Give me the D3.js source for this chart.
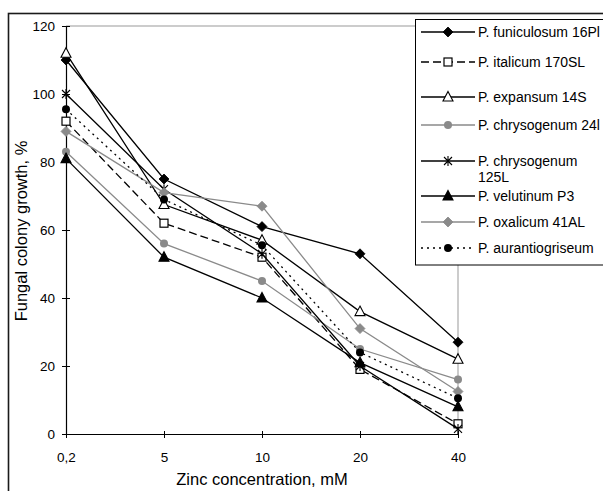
<!DOCTYPE html>
<html>
<head>
<meta charset="utf-8">
<script src="https://cdn.jsdelivr.net/npm/d3@7"></script>
<style>
	body { margin: 0; background: #fff; }
	svg { display: block; font-family: Arial, "Liberation Sans", sans-serif; }
</style>
</head>
<body>
<script>
// zinc concentrations (mM) on the x axis
const categories = ["0,2", "5", "10", "20", "40"];
const yTicks = [0, 20, 40, 60, 80, 100, 120];

// colony growth, %
const funiculosum = [110, 75, 61, 53, 27];
const italicum = [92, 62, 52, 19, 3];
const expansum = [112, 67.5, 57, 36, 22];
const chrysogenum24 = [83, 56, 45, 25, 16];
const chrysogenum125 = [100, 72, 53, 20, 1.5];
const velutinum = [81, 52, 40, 21, 8];
const oxalicum = [89, 71, 67, 31, 12.5];
const aurantiogriseum = [95.5, 69, 55.5, 24, 10.5];

const seriesNames = [
	"P. funiculosum 16Pl",
	"P. italicum 170SL",
	"P. expansum 14S",
	"P. chrysogenum 24l",
	"P. chrysogenum 125L",
	"P. velutinum P3",
	"P. oxalicum 41AL",
	"P. aurantiogriseum"
];
const seriesValues = [funiculosum, italicum, expansum, chrysogenum24, chrysogenum125, velutinum, oxalicum, aurantiogriseum];

const styles = [
	{ color: "#000", dash: null, marker: "diamond", fill: "#000" },
	{ color: "#000", dash: "8,4", marker: "square", fill: "#fff" },
	{ color: "#000", dash: null, marker: "triangle", fill: "#fff" },
	{ color: "#8a8a8a", dash: null, marker: "circle", fill: "#8a8a8a" },
	{ color: "#000", dash: null, marker: "star", fill: "none" },
	{ color: "#000", dash: null, marker: "triangle", fill: "#000" },
	{ color: "#8a8a8a", dash: null, marker: "diamond", fill: "#8a8a8a" },
	{ color: "#000", dash: "2,4", marker: "circle", fill: "#000" }
];

const W = 603, H = 491;
const plot = { left: 66, right: 458, top: 26, bottom: 434 };

const svg = d3.select("body").append("svg").attr("width", W).attr("height", H);

// outer chart frame (runs off the right/bottom edge)
svg.append("rect")
	.attr("x", 8.5).attr("y", 13.5)
	.attr("width", 620).attr("height", 500)
	.attr("fill", "none").attr("stroke", "#1a1a1a").attr("stroke-width", 1.6);

const x = d3.scalePoint().domain(categories).range([plot.left, plot.right]).padding(0);
const y = d3.scaleLinear().domain([0, 120]).range([plot.bottom, plot.top]);

// plot area border (grey top and right)
svg.append("path")
	.attr("d", `M${plot.left},${y(120)}H${plot.right}V${y(0)}`)
	.attr("fill", "none").attr("stroke", "#999").attr("stroke-width", 1);

// y axis
const yAxis = svg.append("g")
	.attr("transform", `translate(${plot.left},0)`)
	.call(d3.axisLeft(y).tickValues(yTicks).tickSizeInner(4).tickSizeOuter(0).tickPadding(7));
yAxis.selectAll(".tick line").attr("x2", 4).attr("x1", -4);

// x axis
const xAxis = svg.append("g")
	.attr("transform", `translate(0,${plot.bottom})`)
	.call(d3.axisBottom(x).tickSizeInner(4).tickSizeOuter(0).tickPadding(14));
xAxis.selectAll(".tick line").attr("y1", -3).attr("y2", 4);

svg.selectAll(".domain").attr("stroke", "#000").attr("stroke-width", 1.2);
svg.selectAll(".tick line").attr("stroke", "#000");
svg.selectAll(".tick text").attr("font-size", 13.5).attr("fill", "#000")
	.attr("font-family", "Arial, 'Liberation Sans', sans-serif");
yAxis.selectAll(".tick text").attr("dy", "0.36em");

// axis titles
svg.append("text")
	.attr("x", (plot.left + plot.right) / 2).attr("y", 485)
	.attr("text-anchor", "middle").attr("font-size", 16.5)
	.text("Zinc concentration, mM");

svg.append("text")
	.attr("transform", "translate(27,231) rotate(-90)")
	.attr("text-anchor", "middle").attr("font-size", 16.5)
	.text("Fungal colony growth, %");

function drawMarker(g, kind, cx, cy, st) {
	if (kind === "diamond") {
		g.append("path")
			.attr("d", `M${cx},${cy - 5}L${cx + 5},${cy}L${cx},${cy + 5}L${cx - 5},${cy}Z`)
			.attr("fill", st.fill).attr("stroke", st.color).attr("stroke-width", 0.8);
	} else if (kind === "square") {
		g.append("rect")
			.attr("x", cx - 4).attr("y", cy - 4).attr("width", 8).attr("height", 8)
			.attr("fill", st.fill).attr("stroke", st.color).attr("stroke-width", 1.2);
	} else if (kind === "triangle") {
		g.append("path")
			.attr("d", `M${cx},${cy - 5.5}L${cx + 5},${cy + 4}L${cx - 5},${cy + 4}Z`)
			.attr("fill", st.fill).attr("stroke", st.color).attr("stroke-width", 1.1);
	} else if (kind === "circle") {
		g.append("circle")
			.attr("cx", cx).attr("cy", cy).attr("r", 4)
			.attr("fill", st.fill).attr("stroke", "none");
	} else if (kind === "star") {
		g.append("path")
			.attr("d", `M${cx - 4},${cy - 4}L${cx + 4},${cy + 4}M${cx + 4},${cy - 4}L${cx - 4},${cy + 4}M${cx},${cy - 5}V${cy + 5}`)
			.attr("fill", "none").attr("stroke", st.color).attr("stroke-width", 1.1);
	}
}

const line = d3.line().x((d, i) => x(categories[i])).y(d => y(d));

seriesValues.forEach((vals, si) => {
	const st = styles[si];
	const g = svg.append("g").attr("class", "series");
	g.append("path")
		.datum(vals)
		.attr("d", line)
		.attr("fill", "none")
		.attr("stroke", st.color)
		.attr("stroke-width", 1.3)
		.attr("stroke-dasharray", st.dash);
	vals.forEach((v, i) => drawMarker(g, st.marker, x(categories[i]), y(v), st));
});

// legend
const legendX = 415, legendTop = 19.5, legendBottom = 265;
const legend = svg.append("g");
legend.append("rect")
	.attr("x", legendX + 0.5).attr("y", legendTop)
	.attr("width", 260).attr("height", legendBottom - legendTop)
	.attr("fill", "#fff").attr("stroke", "#000").attr("stroke-width", 1);

const legendRowY = [32, 62, 97, 125, 161, 196, 222, 248];
seriesNames.forEach((name, si) => {
	const st = styles[si];
	const ly = legendRowY[si];
	legend.append("line")
		.attr("x1", 421).attr("x2", 475).attr("y1", ly).attr("y2", ly)
		.attr("stroke", st.color).attr("stroke-width", 1.3)
		.attr("stroke-dasharray", st.dash);
	drawMarker(legend, st.marker, 448, ly, st);
	const t = legend.append("text")
		.attr("x", 478).attr("y", ly + 5)
		.attr("font-size", 14);
	if (name === "P. chrysogenum 125L") {
		t.text("P. chrysogenum");
		legend.append("text").attr("x", 478).attr("y", ly + 21)
			.attr("font-size", 14).text("125L");
	} else {
		t.text(name);
	}
});
</script>
</body>
</html>
